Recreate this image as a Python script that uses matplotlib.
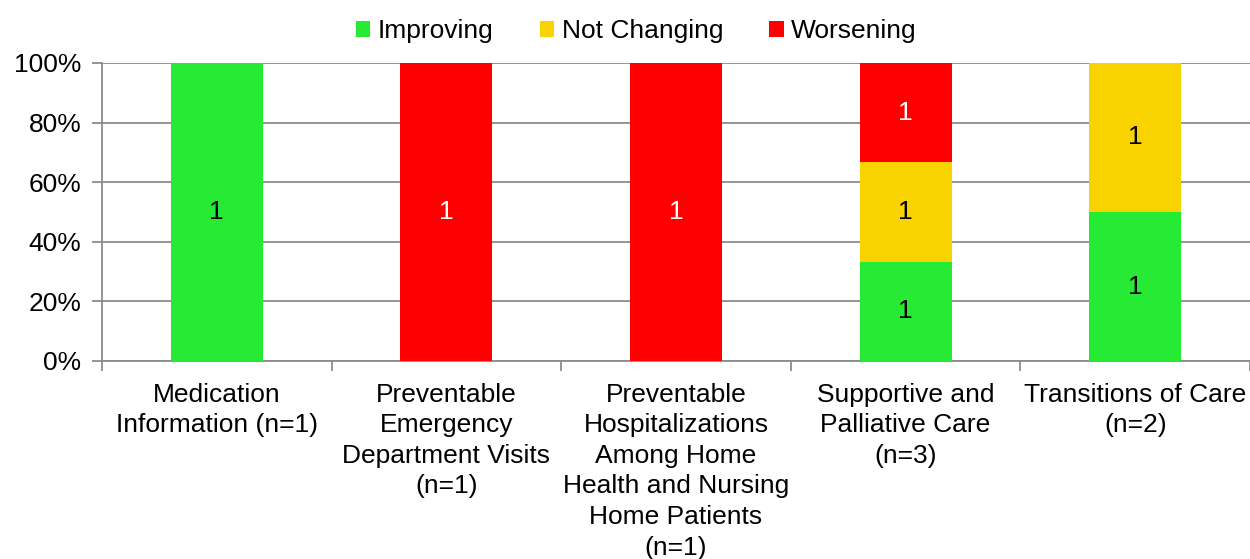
import matplotlib
matplotlib.use("Agg")
import matplotlib.pyplot as plt
import numpy as np

plt.rcParams['font.family'] = ['Liberation Sans', 'DejaVu Sans']

categories = ["Medication\nInformation (n=1)",
              "Preventable\nEmergency\nDepartment Visits\n(n=1)",
              "Preventable\nHospitalizations\nAmong Home\nHealth and Nursing\nHome Patients\n(n=1)",
              "Supportive and\nPalliative Care\n(n=3)",
              "Transitions of Care\n(n=2)"]
series_names = ["Improving", "Not Changing", "Worsening"]
improving = [1, 0, 0, 1, 1]
not_changing = [0, 0, 0, 1, 1]
worsening = [0, 1, 1, 1, 0]
colors = ["#27EA35", "#F9D300", "#FF0000"]
label_colors = ["black", "black", "white"]

counts = np.array([improving, not_changing, worsening], dtype=float)
totals = counts.sum(axis=0)
pct = counts / totals * 100

FS = 19

fig = plt.figure(figsize=(12.5, 5.59), dpi=100)
ax = fig.add_axes([102/1250, 1-361/559, 1-102/1250, (361-63)/559])

x = np.arange(len(categories))
bottom = np.zeros(len(categories))
for i, name in enumerate(series_names):
    ax.bar(x, pct[i], 0.4, bottom=bottom, color=colors[i], label=name, zorder=3)
    for j in range(len(categories)):
        if counts[i, j] > 0:
            ax.text(x[j], bottom[j] + pct[i, j] / 2, f"{int(counts[i, j])}",
                    ha="center", va="center", fontsize=FS, color=label_colors[i], zorder=4)
    bottom += pct[i]

ax.set_xlim(-0.5, len(categories) - 0.5)
ax.set_ylim(0, 100)
ax.set_yticks(np.arange(0, 101, 20))
ax.set_yticklabels([f"{v}%" for v in range(0, 101, 20)], fontsize=FS)
ax.yaxis.grid(True, color="#8C8C8C", linewidth=1.3, zorder=0)
ax.set_axisbelow(True)

ax.set_xticks(x)
ax.set_xticklabels(categories, fontsize=FS, linespacing=1.35)
ax.set_xticks(np.arange(-0.5, len(categories)), minor=True)
ax.tick_params(axis="x", which="major", length=0, pad=15.5)
ax.tick_params(axis="x", which="minor", length=7, color="#8C8C8C", width=1.3)
ax.tick_params(axis="y", length=7, color="#8C8C8C", width=1.3, pad=8)

for s in ["top", "right"]:
    ax.spines[s].set_visible(False)
for s in ["left", "bottom"]:
    ax.spines[s].set_color("#8C8C8C")
    ax.spines[s].set_linewidth(1.3)

fig.legend(loc="upper center", bbox_to_anchor=(0.509, 1.008), ncol=3, frameon=False,
           fontsize=FS, handlelength=0.55, handleheight=0.55, handletextpad=0.28,
           columnspacing=1.75)

fig.savefig("out.png", dpi=100)
